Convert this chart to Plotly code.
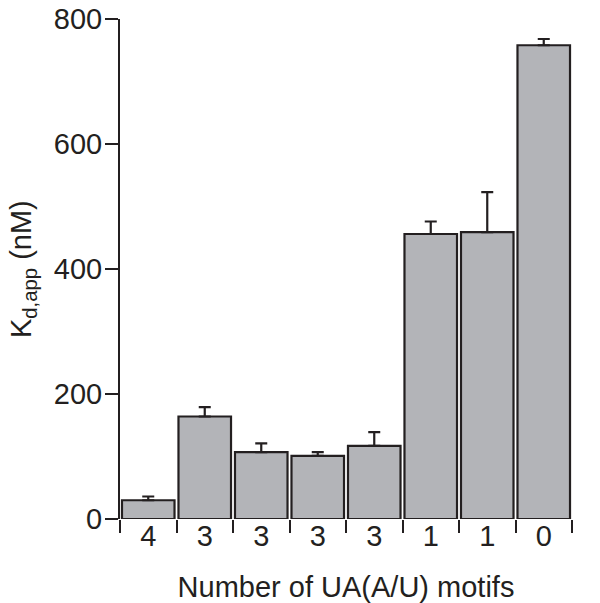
"""Bar chart of apparent Kd versus number of UA(A/U) motifs."""
import plotly.graph_objects as go

# --- Data ---
motif_labels = ["4", "3", "3", "3", "3", "1", "1", "0"]
kd_values    = [30, 164, 107, 101, 117, 456, 459, 758]
kd_errors    = [6, 15, 14, 6, 22, 20, 64, 10]

BAR_FILL = "#b3b4b8"
INK      = "#231f20"
FONT     = "Liberation Sans, Arial, Helvetica, sans-serif"

positions  = list(range(len(kd_values)))
boundaries = [p - 0.5 for p in positions] + [positions[-1] + 0.5]

fig = go.Figure()
fig.add_trace(go.Bar(
    x=positions, y=kd_values, width=0.93,
    marker=dict(color=BAR_FILL, line=dict(color=INK, width=2.2)),
    error_y=dict(type="data", array=kd_errors, arrayminus=[0] * len(kd_errors),
                 symmetric=False, color=INK, thickness=2.2, width=6),
    showlegend=False,
))
# invisible trace so the label axis exists
fig.add_trace(go.Scatter(x=positions, y=[None] * len(positions), xaxis="x2",
                         showlegend=False, hoverinfo="skip"))

x_range = [boundaries[0], boundaries[-1]]

# page body has an 8px margin, so the margins are shifted to compensate
fig.update_layout(
    width=600, height=603,
    margin=dict(l=112, r=36, t=11, b=92),
    paper_bgcolor="white", plot_bgcolor="white",
    font=dict(family=FONT, size=29, color=INK),
    xaxis=dict(
        range=x_range, tickmode="array", tickvals=boundaries,
        showticklabels=False, ticks="outside", ticklen=13, tickwidth=2,
        tickcolor=INK, showline=False, showgrid=False, zeroline=False,
        automargin=False,
    ),
    xaxis2=dict(
        overlaying="x", side="bottom", range=x_range,
        tickmode="array", tickvals=positions, ticktext=motif_labels,
        ticks="", showline=False, showgrid=False, zeroline=False,
        tickfont=dict(size=29), ticklabelstandoff=-3, automargin=False,
        ticklabeloverflow="allow",
        title=dict(text="Number of UA(A/U) motifs", font=dict(size=29), standoff=25),
    ),
    yaxis=dict(
        range=[0, 800], tickmode="array", tickvals=[0, 200, 400, 600, 800],
        ticks="outside", ticklen=13, tickwidth=2, tickcolor=INK,
        showline=True, linewidth=2, linecolor=INK, automargin=False,
        showgrid=False, zeroline=False, tickfont=dict(size=29),
        ticklabelstandoff=-3, ticklabeloverflow="allow",
    ),
    annotations=[dict(
        text="K<sub>d,app</sub> (nM)", textangle=-90, showarrow=False,
        xref="paper", yref="paper", x=0, y=0.5, xanchor="center", yanchor="middle",
        xshift=-97, font=dict(size=29),
    )],
)

fig.write_html("out.html")
